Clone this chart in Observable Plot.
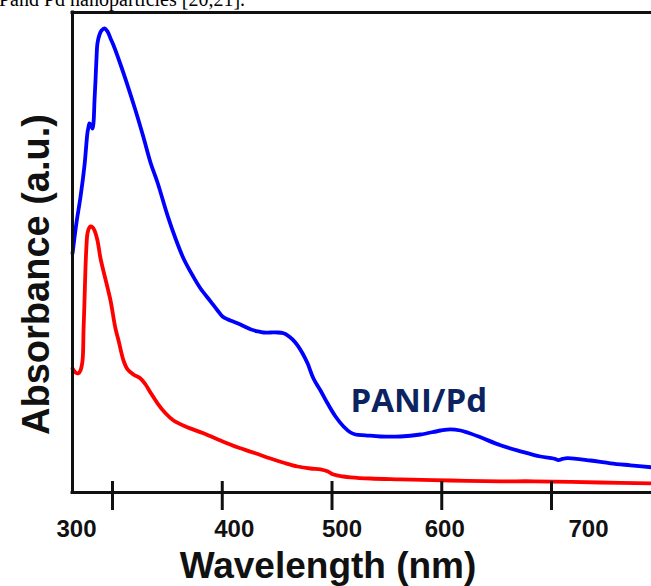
<!DOCTYPE html>
<html>
<head>
<meta charset="utf-8">
<script src="https://cdn.jsdelivr.net/npm/d3@7"></script>
<script src="https://cdn.jsdelivr.net/npm/@observablehq/plot@0.6"></script>
<style>
  html, body { margin: 0; padding: 0; background: #fff; }
  #wrap { position: relative; width: 651px; height: 586px; overflow: hidden; }
  #hdr { position: absolute; left: -1px; top: -11px; font: 20px "Liberation Serif", "Times New Roman", serif; line-height: 1; white-space: nowrap; color: #000; }
</style>
</head>
<body>
<div id="wrap">
  <div id="chart"></div>
  <div id="hdr">Pand Pd nanoparticles [20,21].</div>
</div>
<script>
// Wavelength (nm) and absorbance (a.u.)
const blueWl = [263.6,267.2,270.8,274.5,277.2,278.1,279.0,280.9,281.8,282.7,283.6,284.5,285.4,286.3,288.2,290.0,292.7,295.4,298.2,300.9,307.3,313.7,321.0,328.2,334.6,341.0,350.1,357.4,364.7,372.9,380.2,389.3,395.7,400.2,404.8,409.3,413.9,420.3,425.7,432.1,437.6,444.0,450.3,455.8,459.5,464.0,468.6,473.1,477.7,483.1,489.5,495.9,503.2,510.5,516.9,521.4,530.5,544.2,562.4,580.6,598.9,608.0,617.1,623.5,635.3,653.5,671.8,690.0,701.8,706.4,710.0,714.6,735.5,753.8,772.0,791.1];
const blueAbs = [0.598,0.675,0.738,0.818,0.900,0.913,0.923,0.915,0.910,0.925,0.980,1.030,1.085,1.123,1.145,1.155,1.160,1.153,1.135,1.118,1.070,1.018,0.955,0.888,0.825,0.775,0.693,0.635,0.585,0.543,0.510,0.478,0.455,0.440,0.433,0.428,0.423,0.415,0.408,0.403,0.400,0.400,0.400,0.398,0.393,0.383,0.368,0.348,0.323,0.285,0.255,0.223,0.190,0.165,0.150,0.145,0.143,0.140,0.140,0.145,0.155,0.158,0.155,0.150,0.138,0.118,0.103,0.090,0.085,0.081,0.084,0.086,0.080,0.073,0.068,0.063];

const redWl = [263.6,266.3,269.0,270.8,272.7,273.6,274.5,275.4,276.3,277.2,279.0,280.0,281.8,283.6,286.3,289.1,292.7,295.4,298.2,302.7,305.5,310.0,313.7,319.1,325.5,330.1,334.6,341.0,348.3,355.6,366.5,382.9,398.4,413.9,430.3,444.0,457.6,468.6,480.4,489.5,495.9,501.4,510.5,516.9,535.1,562.4,608.0,653.5,683.6,744.6,791.1];
const redAbs = [0.310,0.300,0.298,0.305,0.330,0.405,0.480,0.563,0.618,0.648,0.663,0.665,0.663,0.655,0.630,0.585,0.543,0.513,0.480,0.410,0.380,0.330,0.308,0.295,0.285,0.270,0.250,0.223,0.198,0.180,0.165,0.148,0.130,0.113,0.098,0.085,0.073,0.065,0.060,0.058,0.053,0.045,0.040,0.038,0.035,0.033,0.030,0.028,0.028,0.025,0.023];

const xTicks = [300, 400, 500, 600, 700];
const xTickLabels = ["300", "400", "500", "600", "700"];
const seriesLabel = "PANI/Pd";
const labelAt = {wl: 516.9, abs: 0.2025};

const blue = blueWl.map((w, i) => ({w, a: blueAbs[i]}));
const red = redWl.map((w, i) => ({w, a: redAbs[i]}));

const xDomain = [263.55, 791.1];
const yDomain = [0, 1.2];
const labelNudge = [-36, 12, 10, 3, 37];

const tickLabelMarks = xTicks.map((v, i) =>
  Plot.text([v], {
    x: d => d, text: () => xTickLabels[i], frameAnchor: "bottom",
    dy: 44, dx: labelNudge[i], lineAnchor: "bottom",
    fontSize: 24, fontWeight: "bold", fill: "#111"
  })
);

const chart = Plot.plot({
  width: 651,
  height: 586,
  marginLeft: 72,
  marginRight: 0,
  marginTop: 12,
  marginBottom: 94,
  style: {fontFamily: "'Liberation Sans', Arial, sans-serif", background: "#fff", overflow: "visible"},
  x: {domain: xDomain, axis: null},
  y: {domain: yDomain, axis: null},
  marks: [
    Plot.line(red, {x: "w", y: "a", stroke: "#ff0000", strokeWidth: 3.8, curve: "catmull-rom"}),
    Plot.line(blue, {x: "w", y: "a", stroke: "#0000ff", strokeWidth: 3.8, curve: "catmull-rom"}),
    Plot.ruleY([yDomain[0], yDomain[1]], {stroke: "#111", strokeWidth: 3, strokeLinecap: "square"}),
    Plot.ruleX([xDomain[0]], {stroke: "#111", strokeWidth: 3, strokeLinecap: "square"}),
    Plot.axisX({ticks: xTicks, tickSize: 29, dy: -11, tickFormat: () => "", label: null, stroke: "#111", strokeWidth: 3}),
    ...tickLabelMarks,
    Plot.text([seriesLabel], {x: () => labelAt.wl, y: () => labelAt.abs, text: d => d, textAnchor: "start", lineAnchor: "bottom", fontSize: 33, fontWeight: "bold", fill: "#0b2461", fontFamily: "'Open Sans', 'Liberation Sans', sans-serif"}),
    Plot.text(["Wavelength (nm)"], {frameAnchor: "bottom", dx: -34, dy: 85, lineAnchor: "bottom", fontSize: 37, fontWeight: "bold", fill: "#111"}),
    Plot.text(["Absorbance (a.u.)"], {frameAnchor: "left", rotate: -90, dx: -24, dy: 22, lineAnchor: "bottom", textAnchor: "middle", fontSize: 38, fontWeight: "bold", fill: "#111"})
  ]
});
document.getElementById("chart").appendChild(chart);
</script>
</body>
</html>
